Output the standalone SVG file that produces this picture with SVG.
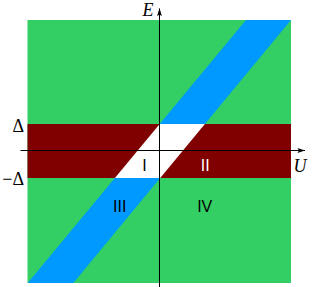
<svg xmlns="http://www.w3.org/2000/svg" width="312" height="287" viewBox="0 0 312 287">
  <style>
    .ax { stroke: #000; stroke-width: 1; fill: none; }
    .math { font-family: "Liberation Serif", "Times New Roman", serif; font-size: 18px; fill: #000; }
    .it { font-style: italic; }
    .reg { font-family: "Liberation Sans", Arial, sans-serif; font-size: 16px; text-anchor: middle; }
  </style>
  <defs>
    <marker id="arr" viewBox="0 0 10 6" refX="9.5" refY="3" markerWidth="8" markerHeight="5" markerUnits="userSpaceOnUse" orient="auto">
      <path d="M0,0 L10,3 L0,6 L2,3 Z" fill="#000"/>
    </marker>
  </defs>
  <rect width="312" height="287" fill="#ffffff"/>
  <g id="regions">
    <rect id="bg" x="27.5" y="20" width="263.5" height="263" fill="#33cf64"/>
    <polygon id="strip" points="246,20 291,20 73.3,283 27.7,283" fill="#0099ff"/>
    <rect id="band" x="27.5" y="124" width="263.5" height="54" fill="#800000"/>
    <polygon id="gap" points="159.7,124 204.9,124 160.2,178 114.9,178" fill="#ffffff"/>
  </g>
  <g id="connectors">
    <line class="ax" x1="20.5" y1="150.5" x2="305" y2="150.5" marker-end="url(#arr)"/>
    <line class="ax" x1="159.5" y1="287" x2="159.5" y2="8.5" marker-end="url(#arr)"/>
  </g>
  <g id="labels">
    <text class="math it" x="142.5" y="16">E</text>
    <text class="math it" x="293.5" y="171.5">U</text>
    <text class="math" x="24" y="131.7" text-anchor="end">Δ</text>
    <text class="math" x="24" y="185.2" text-anchor="end">−Δ</text>
  </g>
  <g id="region-I"><text class="reg" x="144.5" y="171.3" fill="#000">I</text></g>
  <g id="region-II"><text class="reg" x="205.3" y="171.3" fill="#fff">II</text></g>
  <g id="region-III"><text class="reg" x="119.7" y="211.8" fill="#000">III</text></g>
  <g id="region-IV"><text class="reg" x="204.7" y="211.8" fill="#000">IV</text></g>
</svg>
